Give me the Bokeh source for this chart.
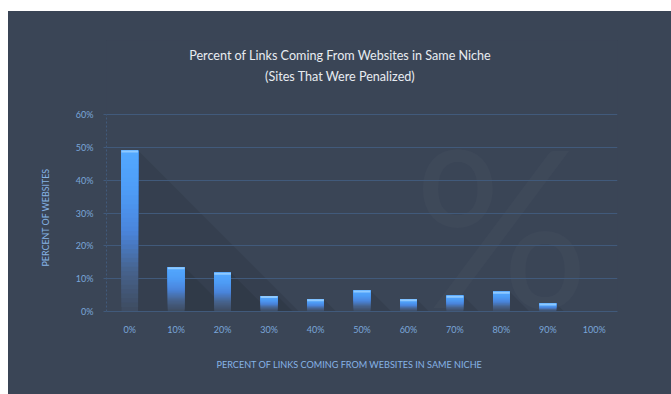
from bokeh.plotting import figure
from bokeh.models import (FactorRange, Range1d, FixedTicker, Label, PolyAnnotation, Spacer, Title)
from bokeh.layouts import column, row
from bokeh.embed import file_html
from bokeh.resources import INLINE

# ---- data ----
categories = ["0%", "10%", "20%", "30%", "40%", "50%", "60%", "70%", "80%", "90%", "100%"]
percent_websites = [49.0, 13.5, 11.8, 4.7, 3.7, 6.4, 3.7, 4.8, 6.0, 2.4, 0.0]
y_ticks = [0, 10, 20, 30, 40, 50, 60]
y_tick_labels = ["0%", "10%", "20%", "30%", "40%", "50%", "60%"]
title_lines = ["Percent of Links Coming From Websites in Same Niche", "(Sites That Were Penalized)"]
x_title = "PERCENT OF LINKS COMING FROM WEBSITES IN SAME NICHE"
y_title = "PERCENT OF WEBSITES"

# ---- style ----
BG = "#3a4556"
GRID = "#415a7b"
TICK = "#7ba7da"
AXT = "#86b3e6"
TITLE = "#e8ecf1"
FONT = "Lato"
FRAME_W = 511
GRID_H = 197          # pixels spanned by 0..60 %
EXTRA_TOP = 74        # frame extends above 60 % to hold the title
Y_MAX = 60
FRAME_H = GRID_H + EXTRA_TOP
Y_TOP = Y_MAX * FRAME_H / GRID_H
BAR_W = 0.36

p = figure(x_range=FactorRange(factors=categories), y_range=Range1d(0, Y_TOP),
           frame_width=FRAME_W, frame_height=FRAME_H,
           min_border_left=98, min_border_right=54, min_border_top=29, min_border_bottom=83,
           output_backend="svg", toolbar_location=None, tools="")
p.background_fill_color = BG
p.border_fill_color = BG
p.outline_line_color = None
p.styles = {"background-color": BG}

px_x = FRAME_W / len(categories)   # pixels per category
px_y = GRID_H / Y_MAX              # pixels per percent

# shadows (long diagonal, 45 degrees down-right)
L = 520
for i, v in enumerate(percent_websites):
    if v <= 0:
        continue
    c = i + 0.5
    x0, x1 = c - BAR_W / 2, c + BAR_W / 2
    xs = [x1, x1 + L / px_x, x0 + L / px_x, x0]
    ys = [v, v - L / px_y, 0 - L / px_y, 0]
    p.add_layout(PolyAnnotation(xs=xs, ys=ys, fill_color="black", fill_alpha=0.08,
                                line_color=None, level="image"))

# faint "%" watermark
p.add_layout(Label(x=8.5, y=27, text="%", text_font=FONT, text_font_size="220px",
                   text_color="white", text_alpha=0.022, text_align="center",
                   text_baseline="middle", level="image"))

# gradient bars
def lerp(a, b, t):
    return tuple(int(round(a[k] + (b[k] - a[k]) * t)) for k in range(3))

def hx(c):
    return "#%02x%02x%02x" % c

stops = [(0.0, (0x3e, 0x4b, 0x5f)), (0.25, (0x46, 0x62, 0x8c)), (0.5, (0x4a, 0x85, 0xdc)),
         (0.75, (0x4e, 0x9c, 0xf6)), (1.0, (0x53, 0xa9, 0xff))]

def grad(f):
    for (f0, c0), (f1, c1) in zip(stops[:-1], stops[1:]):
        if f <= f1:
            return hx(lerp(c0, c1, (f - f0) / (f1 - f0)))
    return hx(stops[-1][1])

N = 36
for k in range(N):
    f = (k + 0.5) / N
    p.vbar(x=categories, width=BAR_W, bottom=[v * k / N for v in percent_websites],
           top=percent_websites, fill_color=grad(f), line_color=None)

# light cap on top
cap = 2.0 / px_y
cats_nz = [c for c, v in zip(categories, percent_websites) if v > 0]
vals_nz = [v for v in percent_websites if v > 0]
p.vbar(x=cats_nz, width=BAR_W, bottom=[v - cap for v in vals_nz], top=vals_nz,
       fill_color="#8ec9ff", line_color=None)

# grid
p.xgrid.grid_line_color = None
p.ygrid.grid_line_color = GRID
p.ygrid.grid_line_width = 1
p.ygrid.ticker = FixedTicker(ticks=y_ticks)

# y axis
p.yaxis.ticker = FixedTicker(ticks=y_ticks)
p.yaxis.bounds = (0, Y_MAX)
p.yaxis.major_label_overrides = dict(zip(y_ticks, y_tick_labels))
p.yaxis.major_label_text_font = FONT
p.yaxis.major_label_text_font_size = "9px"
p.yaxis.major_label_text_color = TICK
p.yaxis.major_label_standoff = 10
p.yaxis.axis_line_color = GRID
p.yaxis.axis_line_dash = "2 2"
p.yaxis.major_tick_line_color = GRID
p.yaxis.major_tick_out = 3
p.yaxis.major_tick_in = 0
p.yaxis.minor_tick_line_color = None

# y axis title (left of the axis, centred on the 0..60 % span)
p.add_layout(Title(text=y_title, align="left", offset=45, vertical_align="bottom", standoff=44,
                   text_font=FONT, text_font_size="8.9px", text_font_style="normal",
                   text_color=AXT), "left")

# x axis
p.xaxis.major_label_text_font = FONT
p.xaxis.major_label_text_font_size = "9px"
p.xaxis.major_label_text_color = TICK
p.xaxis.major_label_standoff = 12
p.xaxis.axis_line_color = GRID
p.xaxis.major_tick_line_color = None
p.xaxis.major_tick_out = 0
p.xaxis.major_tick_in = 0
p.xaxis.minor_tick_line_color = None

# x axis title (below the axis)
p.add_layout(Title(text=x_title, align="left", offset=110, vertical_align="top", standoff=42,
                   text_font=FONT, text_font_size="9.1px", text_font_style="normal",
                   text_color=AXT), "below")

# chart title (inside the frame, above the grid)
p.add_layout(Label(x=5.03, y=77.97, text=title_lines[0], text_font=FONT, text_font_size="12.6px",
                   text_color=TITLE, text_align="center", text_baseline="middle"))
p.add_layout(Label(x=5.03, y=71.57, text=title_lines[1], text_font=FONT, text_font_size="12.6px",
                   text_color=TITLE, text_align="center", text_baseline="middle"))

layout = row(Spacer(width=8), column(Spacer(height=11), p, spacing=0), spacing=0)
open("out.html", "w").write(file_html(layout, INLINE))
